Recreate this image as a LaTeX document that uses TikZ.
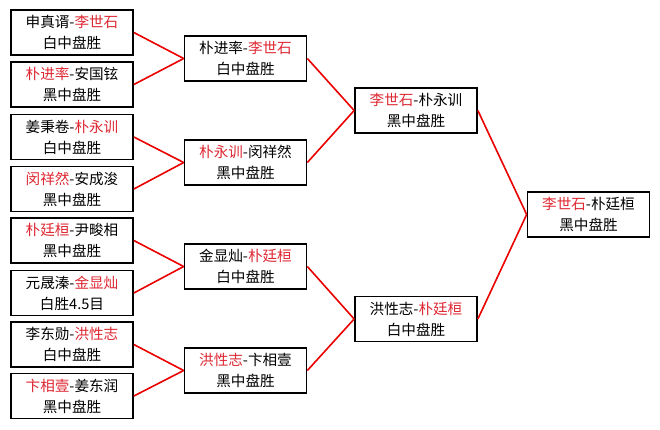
\documentclass[tikz,border=0pt]{standalone}
\usepackage{fontspec}
\newfontfamily\cjk{Noto Sans CJK SC}
\definecolor{winred}{RGB}{222,40,50}
\definecolor{linkred}{RGB}{235,0,0}
\newcommand{\hl}[1]{\textcolor{winred}{#1}}
\begin{document}
\begin{tikzpicture}[x=1pt, y=-1pt,
        game/.style={draw, line width=1.7pt, rectangle, minimum width=122pt, minimum height=45pt, inner sep=0pt, align=center, fill=white, font={\cjk\fontsize{14.6}{21}\selectfont}},
        link/.style={draw=linkred, line width=1.6pt}
    ]
    \useasboundingbox[fill=white] (0,0) rectangle (660,429);

    % first round
    \node[game] (p1) at (72,32.5) {申真谞-\hl{李世石}\\白中盘胜};
    \node[game] (p2) at (72,84.5) {\hl{朴进率}-安国铉\\黑中盘胜};
    \node[game] (p3) at (72,137) {姜秉卷-\hl{朴永训}\\白中盘胜};
    \node[game] (p4) at (72,189) {\hl{闵祥然}-安成浚\\黑中盘胜};
    \node[game] (p5) at (72,240.5) {\hl{朴廷桓}-尹畯相\\黑中盘胜};
    \node[game] (p6) at (72,293) {元晟溱-\hl{金显灿}\\白胜4.5目};
    \node[game] (p7) at (72,344.5) {李东勋-\hl{洪性志}\\白中盘胜};
    \node[game] (p8) at (72,396) {\hl{卞相壹}-姜东润\\黑中盘胜};

    % quarter finals
    \node[game] (q1) at (245.5,58.5) {朴进率-\hl{李世石}\\白中盘胜};
    \node[game] (q2) at (245.5,162.5) {\hl{朴永训}-闵祥然\\黑中盘胜};
    \node[game] (q3) at (245.5,266.5) {金显灿-\hl{朴廷桓}\\白中盘胜};
    \node[game] (q4) at (245.5,370.5) {\hl{洪性志}-卞相壹\\黑中盘胜};

    % semi finals
    \node[game] (s1) at (416,110.5) {\hl{李世石}-朴永训\\黑中盘胜};
    \node[game] (s2) at (416,319) {洪性志-\hl{朴廷桓}\\白中盘胜};

    % final
    \node[game] (fin) at (588.5,214.5) {\hl{李世石}-朴廷桓\\黑中盘胜};

    \foreach \a/\b in {p1/q1, p2/q1, p3/q2, p4/q2, p5/q3, p6/q3, p7/q4, p8/q4, q1/s1, q2/s1, q3/s2, q4/s2, s1/fin, s2/fin}
        \draw[link] (\a.east) -- (\b.west);

\end{tikzpicture}
\end{document}
